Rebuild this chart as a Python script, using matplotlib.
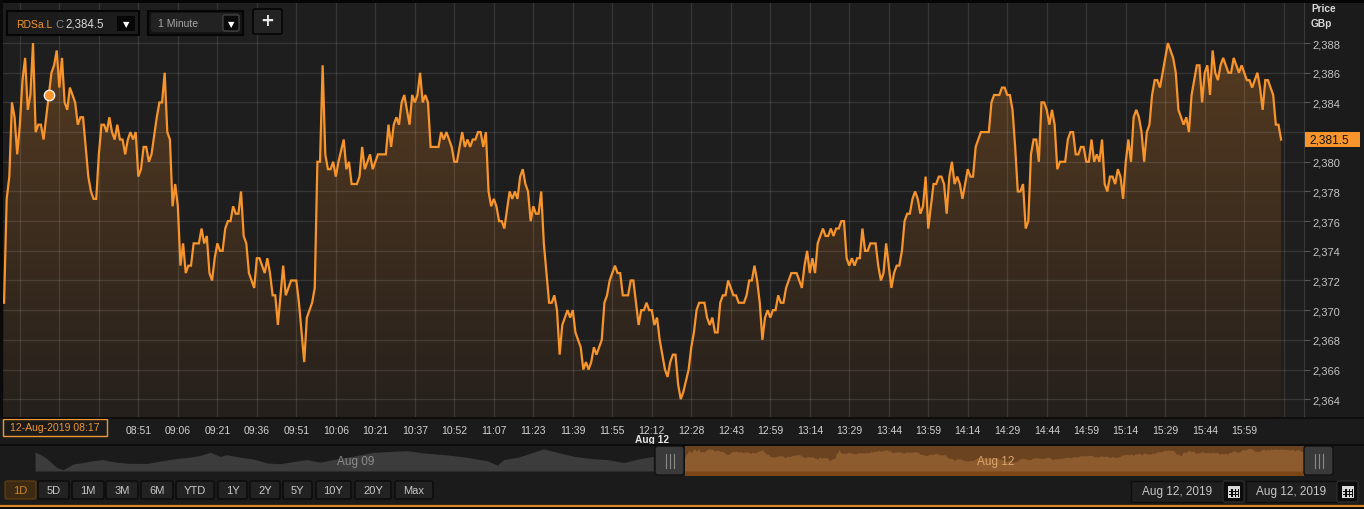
import numpy as np
import matplotlib
matplotlib.use('Agg')
import matplotlib.pyplot as plt
from matplotlib.colors import LinearSegmentedColormap
from matplotlib.patches import Rectangle, FancyBboxPatch

plt.rcParams['font.family'] = ['Liberation Sans', 'DejaVu Sans']

# RDSa.L, 12-Aug-2019, 1 minute bars (x = bar number since 08:00)
idx = [0, 1, 2, 3, 4, 5, 6, 7, 8, 9, 10, 11, 12, 13, 14, 15, 16, 17, 18, 19, 20, 21, 22, 23, 24, 25, 27, 28, 29, 30,
       31, 32, 33, 34, 35, 36, 37, 38, 39, 40, 41, 42, 43, 44, 45, 46, 47, 48, 49, 50, 51, 52, 53, 54, 55, 56, 58, 59, 60,
       61, 62, 63, 64, 65, 66, 67, 68, 69, 70, 71, 72, 74, 75, 76, 77, 78, 79, 80, 81, 82, 83, 84, 85, 86, 87, 88, 89, 90,
       91, 92, 93, 95, 96, 97, 99, 100, 101, 102, 103, 104, 105, 106, 107, 108, 109, 111, 112, 113, 114, 115, 117, 118,
       119, 120, 121, 122, 123, 124, 125, 126, 127, 129, 130, 131, 132, 134, 135, 136, 137, 139, 140, 141, 142, 145, 146,
       147, 148, 149, 150, 151, 152, 153, 154, 155, 156, 157, 158, 159, 160, 161, 162, 165, 166, 167, 168, 169, 170, 171,
       172, 173, 174, 175, 176, 177, 178, 179, 180, 181, 182, 183, 184, 185, 186, 187, 188, 189, 190, 192, 193, 194, 195,
       196, 197, 198, 199, 200, 201, 202, 203, 204, 205, 206, 207, 208, 209, 210, 211, 212, 213, 214, 215, 216, 217, 219,
       220, 221, 222, 223, 224, 225, 227, 228, 229, 230, 231, 232, 233, 234, 235, 237, 238, 239, 240, 241, 242, 243, 244,
       245, 246, 247, 248, 249, 250, 251, 252, 253, 254, 255, 256, 257, 258, 260, 261, 262, 263, 264, 266, 267, 268, 269,
       270, 271, 272, 273, 274, 275, 276, 277, 278, 279, 281, 282, 283, 284, 285, 286, 287, 288, 289, 290, 291, 292, 293,
       294, 295, 296, 297, 298, 299, 301, 302, 303, 304, 305, 306, 307, 308, 309, 310, 311, 312, 313, 314, 315, 316, 317,
       318, 319, 320, 321, 322, 323, 324, 325, 326, 327, 328, 329, 331, 332, 333, 334, 335, 336, 337, 338, 339, 340, 341,
       342, 343, 344, 345, 346, 347, 348, 349, 350, 351, 352, 353, 354, 355, 356, 357, 358, 359, 360, 361, 362, 363, 364,
       365, 366, 367, 368, 369, 370, 371, 374, 375, 376, 378, 379, 380, 381, 382, 383, 384, 385, 386, 387, 388, 389, 390,
       391, 392, 393, 394, 395, 396, 397, 398, 399, 400, 401, 403, 404, 405, 406, 407, 408, 409, 410, 411, 412, 413, 414,
       415, 416, 417, 418, 419, 420, 421, 422, 423, 424, 425, 426, 427, 428, 429, 430, 431, 432, 433, 434, 435, 436, 437,
       438, 439, 440, 441, 442, 443, 444, 445, 446, 447, 448, 449, 450, 451, 452, 453, 454, 455, 456, 457, 458, 459, 460,
       461, 462, 463, 464, 465, 466, 467, 468, 469, 470, 471, 472, 473, 474, 475, 476, 477, 478, 479, 480, 481, 482, 483,
       484, 485]
price = [2370.5, 2377.5, 2379, 2384, 2383, 2380.5, 2382.5, 2385.5, 2387, 2383.5, 2384.5, 2388, 2382, 2382.5, 2382.5,
         2381.5, 2383, 2384.5, 2386, 2386.5, 2387.5, 2385, 2387, 2384, 2383.5, 2385, 2384, 2382.5, 2383, 2383,
         2381, 2379, 2378, 2377.5, 2377.5, 2380.5, 2382.5, 2382.5, 2382, 2383, 2382, 2381.5, 2382.5, 2381.5, 2381.5,
         2380.5, 2381.5, 2382, 2381.5, 2382, 2379, 2379.5, 2381, 2381, 2380, 2380.5, 2383, 2384, 2384,
         2386, 2382, 2381.5, 2377, 2378.5, 2377, 2373, 2374.5, 2372.5, 2373, 2373, 2374.5, 2374.5, 2375.5, 2374.5,
         2375, 2372.5, 2372, 2373.5, 2374.5, 2374, 2374, 2375.5, 2376, 2376, 2377, 2376.5, 2376.5, 2378,
         2375, 2374.5, 2372.5, 2371.5, 2373.5, 2373.5, 2372.5, 2373.5, 2372.5, 2371, 2371, 2369, 2371, 2373, 2371,
         2371.5, 2372, 2372, 2370.5, 2368.5, 2366.5, 2369.5, 2370.5, 2371.5,
         2380, 2380, 2386.5, 2380.5, 2379.5, 2379.5, 2380, 2379, 2380, 2381.5, 2379.5, 2380, 2378.5, 2378.5, 2379,
         2381, 2379.5, 2380.5, 2379.5, 2380, 2380.5, 2380.5, 2382.5,
         2381, 2382.5, 2383, 2382.5, 2384, 2384.5, 2383.5, 2382.5, 2384.5, 2384, 2384.5, 2386, 2384, 2384.5, 2384,
         2381, 2381, 2382, 2381.5, 2382, 2381.5, 2381, 2380,
         2380, 2381, 2382, 2381, 2381.5, 2381, 2381.5, 2381.5, 2382, 2382, 2381, 2382, 2378, 2377, 2377.5, 2377,
         2376, 2376, 2375.5, 2378, 2377.5, 2378, 2377.5,
         2379, 2379.5, 2378.5, 2378, 2376, 2377, 2376.5, 2376.5, 2378, 2374.5, 2372.5, 2370.5, 2370.5, 2371, 2370,
         2367, 2369, 2369.5, 2370, 2369.5, 2370, 2368.5, 2367.5,
         2366, 2366.5, 2366, 2366.5, 2367.5, 2367, 2368, 2370.5, 2371, 2372, 2372.5, 2373, 2372.5, 2372.5, 2371,
         2371, 2372, 2372, 2370.5, 2369, 2370, 2370, 2370.5,
         2370, 2370, 2369, 2369.5, 2368, 2367, 2366, 2365.5, 2366.5, 2367, 2367, 2365, 2364, 2364.5, 2366, 2367.5,
         2368.5, 2370, 2370.5, 2370.5, 2369.5, 2369, 2369.5,
         2368.5, 2368.5, 2370.5, 2371, 2371, 2372, 2371.5, 2371, 2371, 2370.5, 2370.5, 2371, 2372, 2372, 2373, 2372,
         2370.5, 2368, 2369.5, 2370, 2369.5, 2370, 2370,
         2371, 2370.5, 2370.5, 2371.5, 2372, 2372.5, 2372.5, 2372, 2371.5, 2373, 2374, 2372.5, 2373.5, 2372.5, 2374.5,
         2375, 2375.5, 2375, 2375, 2375.5, 2375, 2375.5, 2375.5,
         2376, 2376, 2373.5, 2373, 2373.5, 2373, 2373.5, 2373.5, 2375.5, 2374, 2374, 2374.5, 2374.5, 2373, 2372,
         2372.5, 2374.5, 2373, 2371.5, 2372.5, 2373, 2373, 2374,
         2376, 2376.5, 2376.5, 2377.5, 2378, 2377.5, 2376.5, 2377, 2379, 2375.5, 2377, 2378.5, 2378.5, 2379, 2379,
         2378.5, 2376.5, 2379, 2380, 2378.5, 2379, 2378.5, 2377.5,
         2378.5, 2379.5, 2379, 2379, 2381, 2381.5, 2382, 2382, 2384, 2384.5, 2384.5, 2385, 2385, 2384.5, 2384.5,
         2383.5, 2381, 2378, 2378, 2378.5, 2375.5, 2376, 2380.5,
         2381.5, 2381.5, 2380, 2384, 2384, 2383.5, 2382.5, 2383.5, 2382.5, 2379.5, 2380, 2380, 2381.5, 2382, 2382,
         2380.5, 2380.5, 2381, 2381, 2380, 2380, 2381.5, 2380,
         2380.5, 2380, 2381.5, 2378.5, 2378, 2379, 2379, 2378.5, 2379.5, 2379, 2377.5, 2380, 2381.5, 2380, 2383,
         2383.5, 2383, 2382, 2380, 2382, 2382.5, 2384.5, 2385.5,
         2385.5, 2385, 2386, 2387, 2388, 2387.5, 2387, 2386, 2383.5, 2383, 2382.5, 2383, 2382, 2384.5, 2385.5,
         2386.5, 2386.5, 2384, 2386, 2386.5, 2384.5, 2387.5, 2386,
         2385.5, 2386.5, 2387, 2386.5, 2386, 2386, 2387, 2386.5, 2386, 2386.5, 2386, 2385.5, 2385.5, 2385, 2385.5,
         2386, 2385, 2383.5, 2385.5, 2385.5, 2385, 2384.5, 2382.5,
         2382.5, 2381.5]

# time labels sit on every 15th bar (the first three are hidden under the hover stamp)
tick_idx = [6, 21, 36, 51, 66, 81, 96, 111, 126, 141, 156, 171, 186, 201, 216, 231, 246, 261, 276, 291, 306,
            321, 336, 351, 366, 381, 396, 411, 426, 441, 456, 471, 486]
tick_lbl = ['', '', '', '08:51', '09:06', '09:21', '09:36', '09:51', '10:06', '10:21', '10:37',
            '10:52', '11:07', '11:23', '11:39', '11:55', '12:12', '12:28', '12:43', '12:59', '13:14', '13:29',
            '13:44', '13:59', '14:14', '14:29', '14:44', '14:59', '15:14', '15:29', '15:44', '15:59', '']
y_ticks = [2364, 2366, 2368, 2370, 2372, 2374, 2376, 2378, 2380, 2382, 2384, 2386, 2388]
# 2,382 sits behind the last-price tag
y_lbl = ['2,364', '2,366', '2,368', '2,370', '2,372', '2,374', '2,376', '2,378', '2,380', '', '2,384',
         '2,386', '2,388']
hover_idx, hover_price = 17, 2384.5
last_price = 2381.5

# navigator: previous session (Aug 09) outline
nav09_idx = [0, 8, 17, 22, 30, 35, 45, 53, 64, 74, 88, 98, 111, 121, 129, 137, 145, 150, 161, 171,
             182, 192, 202, 213, 223, 233, 244, 252, 265, 291, 304, 323, 338, 354, 362, 367, 378, 390, 398, 409,
             422, 435, 448, 461, 472, 484]
nav09_price = [2382, 2372.5, 2355, 2351, 2361, 2362.5, 2366.5, 2368.5, 2364, 2362, 2362, 2366, 2370.5, 2372.5,
               2375.5, 2381, 2374, 2377, 2372.5, 2369.5, 2362.5, 2361.5, 2365, 2368.5, 2364, 2368.5, 2372.5,
               2375.5, 2381, 2384, 2380, 2376.5, 2372.5, 2366.5, 2359, 2368.5, 2372.5, 2381, 2387, 2381, 2374,
               2370.5, 2368.5, 2363.5, 2369.5, 2374]
range_btns = ['1D', '5D', '1M', '3M', '6M', 'YTD', '1Y', '2Y', '5Y', '10Y', '20Y', 'Max']

ORANGE = '#f7952c'
W, H = 1364, 510

fig = plt.figure(figsize=(W / 100, H / 100), dpi=100, facecolor='#1b1b1b')

# ---- main price panel
ax = fig.add_axes([3 / W, 1 - 418 / H, 1301 / W, 414 / H])
ax.set_facecolor('#1e1e1e')
ax.set_xlim(-0.4, 493.7)
ax.set_ylim(2362.8, 2390.7)

ylo, yhi = ax.get_ylim()
cmap = LinearSegmentedColormap.from_list('fill', ['#25201c', '#5a3d21'])
grad = np.linspace(0, 1, 256).reshape(-1, 1)
im = ax.imshow(grad, extent=[idx[0], idx[-1], ylo, yhi], origin='lower', aspect='auto',
               cmap=cmap, zorder=1)
area = ax.fill_between(idx, price, ylo, facecolor='none', linewidth=0)
im.set_clip_path(area.get_paths()[0], transform=ax.transData)

ax.plot(idx, price, color=ORANGE, lw=1.6, zorder=4, solid_joinstyle='miter')
ax.plot(hover_idx, hover_price, 'o', ms=7.5, mfc=ORANGE, mec='white', mew=0.9, zorder=5)

ax.set_xticks(tick_idx)
ax.set_xticklabels(tick_lbl)
ax.set_yticks(y_ticks)
ax.set_yticklabels(y_lbl)
ax.yaxis.tick_right()
ax.grid(True, color='white', alpha=0.11, lw=0.9)
ax.set_axisbelow(False)
ax.tick_params(axis='x', length=0, pad=6, labelsize=7.5, labelcolor='#d2d2d2')
ax.tick_params(axis='y', length=4, width=0.8, color='#555555', pad=2, labelsize=8, labelcolor='#c4c4c4')
for s in ['top', 'left', 'bottom']:
    ax.spines[s].set_visible(False)
ax.spines['right'].set_color('#3a3a3a')

ax.annotate('Aug 12', xy=(tick_idx[tick_lbl.index('12:12')], 0), xycoords=ax.get_xaxis_transform(),
            xytext=(0, -22.5), textcoords='offset pixels', ha='center', va='center', fontsize=7.3,
            fontweight='bold', color='#e2e2e2', annotation_clip=False)

# last price tag on the axis
yt = ax.get_yaxis_transform()
ax.add_patch(Rectangle((1.0008, last_price - 0.53), 0.0425, 1.06, transform=yt, clip_on=False,
                       fc=ORANGE, ec='none', zorder=6))
ax.text(1.004, last_price, '{:,.1f}'.format(last_price), transform=yt, ha='left', va='center',
        fontsize=8.6, color='#111111', zorder=7, clip_on=False)

# ---- navigator
nav_off = 508.5
nav = fig.add_axes([35 / W, 1 - 476.7 / H, 1269 / W, 29.4 / H])
nav.set_xlim(0, nav_off + 485)
nav.set_ylim(2340.8, 2391.4)
nav.axis('off')
base = 2348.9
nav.axvspan(nav_off, nav_off + 485, color='#6b4320', lw=0)
nav.fill_between([nav_off, nav_off + 485], 2340.8, base, color='#7b4616', lw=0)
nav.fill_between(np.array(idx) + nav_off, price, base, color='#8d5c2e', lw=0)
nav.fill_between(nav09_idx, nav09_price, base, color='#3c3c3c', lw=0)

# ---- chrome drawn in pixel space
ui = fig.add_axes([0, 0, 1, 1], zorder=5)
ui.set_xlim(0, W)
ui.set_ylim(H, 0)
ui.axis('off')
ui.patch.set_alpha(0)


def rect(x0, y0, x1, y1, fc, ec='none', lw=1, r=0):
    if r:
        p = FancyBboxPatch((x0, y0), x1 - x0, y1 - y0, boxstyle='round,pad=0,rounding_size=%g' % r,
                           fc=fc, ec=ec, lw=lw)
    else:
        p = Rectangle((x0, y0), x1 - x0, y1 - y0, fc=fc, ec=ec, lw=lw)
    ui.add_patch(p)


rect(0, 0, W, 4, '#050505')
rect(0, 0, 3, 418, '#0a0a0a')
ui.plot([0, W], [418.5, 418.5], color='#0c0c0c', lw=1.2)
ui.plot([0, W], [446, 446], color='#0c0c0c', lw=1.5)
ui.plot([0, W], [507, 507], color='#d88628', lw=1.6)
rect(0, 508, W, H, '#050505')

# top-left widgets
rect(7, 12, 139, 36, '#1c1c1c', '#050505', 1.5)
ui.text(16, 24.5, 'RDSa.L', color='#f0962f', fontsize=7.5, va='center')
ui.text(55, 24.5, 'C', color='#8a8a8a', fontsize=8, va='center')
ui.text(65, 24.5, '2,384.5', color='#d8d8d8', fontsize=8.3, va='center')
rect(117, 17, 135, 32, '#060606')
ui.text(126, 24.5, '▼', color='white', fontsize=6, ha='center', va='center', family='DejaVu Sans')
rect(148, 12, 243, 36, '#141414', '#050505', 1.5)
rect(151, 14, 240, 33, '#222222', r=3)
ui.text(158, 24, '1 Minute', color='#a8a8a8', fontsize=7.5, va='center')
rect(223, 16, 239, 32, '#0a0a0a', '#4a4a4a', 0.8, r=2)
ui.text(231, 24.5, '▼', color='white', fontsize=6, ha='center', va='center', family='DejaVu Sans')
rect(253, 10, 282, 35, '#232323', '#050505', 1.2, r=2)
ui.text(267.5, 21.5, '+', color='#e8e8e8', fontsize=12, fontweight='bold', ha='center', va='center',
        family='DejaVu Sans')

# axis header
ui.text(1311, 9, 'Price', color='#d8d8d8', fontsize=7.3, fontweight='bold', va='center')
ui.text(1311, 24, 'GBp', color='#d8d8d8', fontsize=7.3, fontweight='bold', va='center')

# hovered time stamp
rect(3, 420, 107, 437, '#1b1b1b', '#f0962f', 1)
ui.text(55, 428.5, '12-Aug-2019 08:17', color='#f0962f', fontsize=7.5, ha='center', va='center')

# navigator handles and labels
for hx in [655, 1304]:
    rect(hx, 447, hx + 29, 476, '#3a3a3a', '#111111', 1, r=3)
    for k in (-4, 0, 4):
        ui.plot([hx + 14.5 + k, hx + 14.5 + k], [455, 469], color='#8a8a8a', lw=0.8)
ui.text(356, 462, 'Aug 09', color='#8c8c8c', fontsize=8.5, ha='center', va='center')
ui.text(996, 462, 'Aug 12', color='#dba66c', fontsize=8.5, ha='center', va='center')

# range buttons
btn_x = [(5, 36), (38, 69), (72, 104), (106, 138), (141, 173), (176, 214), (218, 247), (250, 280),
         (283, 312), (316, 351), (355, 391), (395, 433)]
for lbl, (x0, x1) in zip(range_btns, btn_x):
    on = lbl == '1D'
    rect(x0, 482, x1, 500, '#3d2a12' if on else '#222222', '#5a3c16' if on else '#0b0b0b', 1, r=2)
    ui.text((x0 + x1) / 2, 491.5, lbl, color='#c9852c' if on else '#c8c8c8', fontsize=8,
            ha='center', va='center')

# date pickers
for x0, x1 in [(1131, 1223), (1246, 1337)]:
    rect(x0, 482, x1, 503, '#1f1f1f', '#0e0e0e', 1)
    ui.text((x0 + x1) / 2, 492.5, 'Aug 12, 2019', color='#c8c8c8', fontsize=8.5, ha='center', va='center')
    rect(x1, 482, x1 + 21, 503, '#0c0c0c', '#303030', 0.8, r=2)
    cx = x1 + 10.5
    rect(cx - 6, 486.5, cx + 6, 499, '#d8d8d8')
    rect(cx - 5, 489.5, cx + 5, 498, '#0c0c0c')
    for gx in (-3.3, 0, 3.3):
        for gy in (491.3, 494, 496.6):
            rect(cx + gx - 1, gy - 0.9, cx + gx + 1, gy + 0.9, '#d8d8d8')

fig.savefig('out.png', dpi=100, facecolor=fig.get_facecolor())
